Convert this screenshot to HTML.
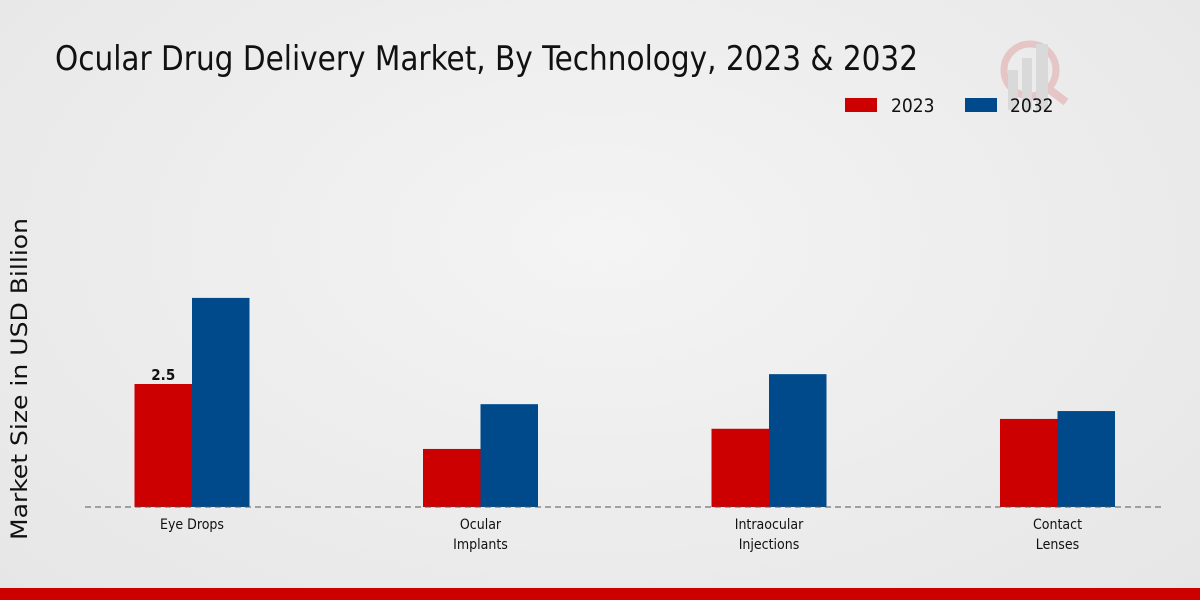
<!DOCTYPE html>
<html><head><meta charset="utf-8"><style>
html,body{margin:0;padding:0;width:1200px;height:600px;overflow:hidden}
body{background:radial-gradient(ellipse at 50% 40%,#f4f4f4 0%,#e6e6e6 100%);font-family:"DejaVu Sans Condensed","Liberation Sans",sans-serif}
svg text{font-family:"DejaVu Sans Condensed","Liberation Sans",sans-serif}
</style></head><body>
<svg id="chart" width="1200" height="600" style="position:absolute;left:0;top:0">
<text x="55" y="70" font-size="34" textLength="863" lengthAdjust="spacingAndGlyphs" fill="#111">Ocular Drug Delivery Market, By Technology, 2023 &amp; 2032</text>
<g opacity="0.5">
<circle cx="1030" cy="70" r="26" fill="none" stroke="#e0a0a0" stroke-width="7"/>
<line x1="1050" y1="90" x2="1066" y2="102" stroke="#e0a0a0" stroke-width="8"/>
<rect x="1008" y="70" width="10" height="40" fill="#c8c8c8"/><rect x="1022" y="58" width="10" height="52" fill="#c8c8c8"/><rect x="1036" y="44" width="12" height="66" fill="#c8c8c8"/>
</g>
<g>
<rect x="845" y="98" width="32" height="14" fill="#cc0000"/>
<text x="891" y="112" font-size="19" fill="#111">2023</text>
<rect x="965" y="98" width="32" height="14" fill="#004a8c"/>
<text x="1010" y="112" font-size="19" fill="#111">2032</text>
</g>
<text transform="translate(27,379) rotate(-90)" text-anchor="middle" font-size="22" textLength="322" lengthAdjust="spacingAndGlyphs" fill="#111">Market Size in USD Billion</text>
<g id="bars"></g>
<line x1="85" y1="507" x2="1165" y2="507" stroke="#555" stroke-dasharray="6,4"/>
<rect x="0" y="588" width="1200" height="12" fill="#cc0000"/>
</svg>
<script>
const categories=[["Eye Drops"],["Ocular","Implants"],["Intraocular","Injections"],["Contact","Lenses"]];
const values2023=[2.5,1.18,1.59,1.79];
const values2032=[4.25,2.09,2.7,1.95];
const labels2023=["2.5",null,null,null];
const NS="http://www.w3.org/2000/svg";
const g=document.getElementById("bars");
const y=v=>507-v*49.2;
const xc=i=>192+i*288.5;
const bw=57.5;
function mk(tag,attrs){const e=document.createElementNS(NS,tag);for(const k in attrs)e.setAttribute(k,attrs[k]);g.appendChild(e);return e;}
categories.forEach((c,i)=>{
  const r1=mk("rect",{x:xc(i)-bw,y:y(values2023[i]),width:bw,height:507-y(values2023[i]),fill:"#cc0000"});
  
  
  const r2=mk("rect",{x:xc(i),y:y(values2032[i]),width:bw,height:507-y(values2032[i]),fill:"#004a8c"});
  
  
  if(labels2023[i]){const t=mk("text",{x:xc(i)-bw/2,y:y(values2023[i])-4,"text-anchor":"middle","font-size":"15","font-weight":"bold",fill:"#111"});t.textContent=labels2023[i];
  
  }
  c.forEach((line,j)=>{const t=mk("text",{x:xc(i),y:529+j*20,"text-anchor":"middle","font-size":"14",fill:"#111"});t.textContent=line;
  
  });
});
</script>
</body></html>
